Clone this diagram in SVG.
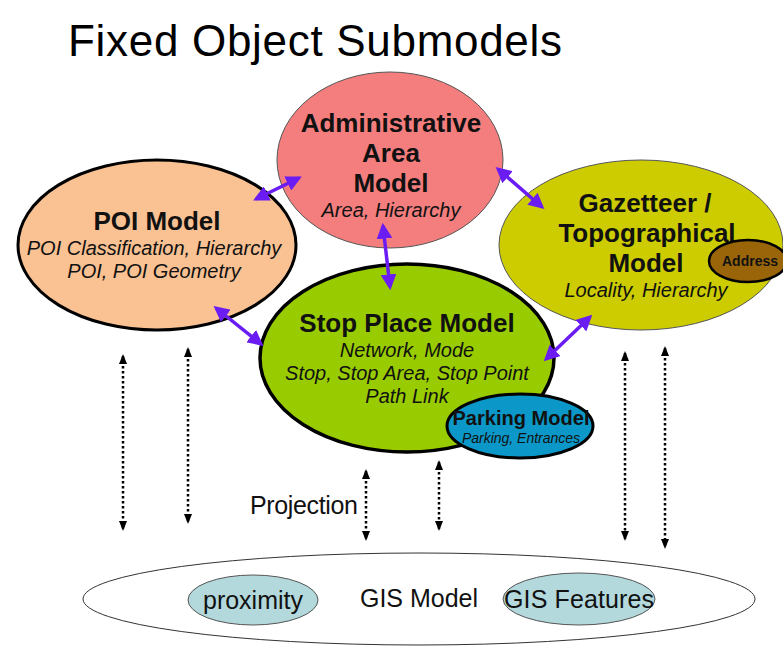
<svg xmlns="http://www.w3.org/2000/svg" width="783" height="649" viewBox="0 0 783 649">
<style>
text{font-family:"Liberation Sans",Arial,sans-serif;fill:#111;text-anchor:middle}
.b{font-weight:bold;font-size:26px}
.i{font-style:italic;font-size:20px}
.r{font-size:25px}
.p{stroke:#6a1cf2;stroke-width:3.5;fill:none}
.d{stroke:#000;stroke-width:2.5;stroke-dasharray:2.5 2.5;fill:none}
</style>
<defs>
<marker id="pa" viewBox="0 0 10 10" refX="8" refY="5" markerWidth="4.5" markerHeight="4.5" orient="auto-start-reverse" markerUnits="strokeWidth"><path d="M0,0 L10,5 L0,10 z" fill="#6a1cf2"/></marker>
<marker id="da" viewBox="0 0 10 10" refX="8" refY="5" markerWidth="4" markerHeight="4" orient="auto-start-reverse" markerUnits="strokeWidth"><path d="M0,1 L10,5 L0,9 z" fill="#000"/></marker>
</defs>
<rect width="783" height="649" fill="#fff"/>
<text x="68" y="56" style="font-size:44px;text-anchor:start;fill:#000" textLength="494">Fixed Object Submodels</text>

<g id="gis">
<ellipse cx="419" cy="599" rx="336" ry="46" fill="#fff" stroke="#333" stroke-width="1"/>
<text x="419" y="607" class="r" textLength="118">GIS Model</text>
</g>
<g id="proximity">
<ellipse cx="253" cy="600" rx="65" ry="25" fill="#b3d9dd" stroke="#555" stroke-width="1"/>
<text x="253" y="609" class="r" textLength="100">proximity</text>
</g>
<g id="gisfeatures">
<ellipse cx="579" cy="599" rx="76" ry="26" fill="#b3d9dd" stroke="#555" stroke-width="1"/>
<text x="579" y="608" class="r" textLength="150">GIS Features</text>
</g>

<g id="admin">
<ellipse cx="390" cy="160" rx="113" ry="88" fill="#f47e7e" stroke="#555" stroke-width="1"/>
<text x="391" y="132" class="b">Administrative</text>
<text x="391" y="162" class="b">Area</text>
<text x="391" y="192" class="b">Model</text>
<text x="391" y="217" class="i">Area, Hierarchy</text>
</g>
<g id="poi">
<ellipse cx="157" cy="245" rx="139" ry="85" fill="#fac193" stroke="#000" stroke-width="3"/>
<text x="157" y="230" class="b">POI Model</text>
<text x="154" y="255" class="i">POI Classification, Hierarchy</text>
<text x="154" y="278" class="i">POI, POI Geometry</text>
</g>
<g id="gazetteer">
<ellipse cx="641" cy="245" rx="142" ry="85" fill="#cccc00" stroke="#555" stroke-width="1"/>
<text x="645" y="212" class="b">Gazetteer /</text>
<text x="647" y="242" class="b">Topographical</text>
<text x="646" y="272" class="b">Model</text>
<text x="646" y="297" class="i">Locality, Hierarchy</text>
</g>
<g id="address">
<ellipse cx="748" cy="261" rx="39" ry="21" fill="#9a6508" stroke="#000" stroke-width="2.5"/>
<text x="750" y="266" style="font-weight:bold;font-size:14px">Address</text>
</g>
<g id="stopplace">
<ellipse cx="407" cy="358" rx="147" ry="94" fill="#99cc00" stroke="#000" stroke-width="3.5"/>
<text x="407" y="332" class="b">Stop Place Model</text>
<text x="407" y="357" class="i">Network, Mode</text>
<text x="407" y="380" class="i">Stop, Stop Area, Stop Point</text>
<text x="407" y="403" class="i">Path Link</text>
</g>
<g id="parking">
<ellipse cx="520" cy="426" rx="73" ry="32" fill="#0b98c8" stroke="#000" stroke-width="3"/>
<text x="521" y="425" style="font-weight:bold;font-size:20px" textLength="137">Parking Model</text>
<text x="521" y="443" style="font-style:italic;font-size:14px" textLength="118">Parking, Entrances</text>
</g>

<text x="250" y="514" class="r" style="text-anchor:start" textLength="108">Projection</text>

<g id="connectors">
<line class="p" x1="256" y1="199" x2="299" y2="178" marker-start="url(#pa)" marker-end="url(#pa)"/>
<line class="p" x1="216" y1="308" x2="261" y2="344" marker-start="url(#pa)" marker-end="url(#pa)"/>
<line class="p" x1="383" y1="226" x2="390" y2="287" marker-start="url(#pa)" marker-end="url(#pa)"/>
<line class="p" x1="498" y1="169" x2="542" y2="207" marker-start="url(#pa)" marker-end="url(#pa)"/>
<line class="p" x1="546" y1="359" x2="590" y2="317" marker-start="url(#pa)" marker-end="url(#pa)"/>
<line class="d" x1="123" y1="356" x2="123" y2="529" marker-start="url(#da)" marker-end="url(#da)"/>
<line class="d" x1="188" y1="349" x2="188" y2="522" marker-start="url(#da)" marker-end="url(#da)"/>
<line class="d" x1="366" y1="471" x2="366" y2="539" marker-start="url(#da)" marker-end="url(#da)"/>
<line class="d" x1="439" y1="462" x2="439" y2="529" marker-start="url(#da)" marker-end="url(#da)"/>
<line class="d" x1="625" y1="353" x2="625" y2="539" marker-start="url(#da)" marker-end="url(#da)"/>
<line class="d" x1="665" y1="348" x2="665" y2="547" marker-start="url(#da)" marker-end="url(#da)"/>
</g>
</svg>
